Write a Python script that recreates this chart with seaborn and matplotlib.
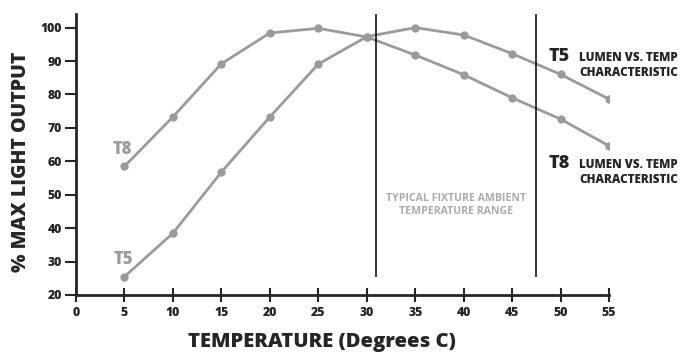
import pandas as pd
import matplotlib.pyplot as plt
import seaborn as sns

# data
temps = [5, 10, 15, 20, 25, 30, 35, 40, 45, 50, 55]
t8_output = [58.5, 73.3, 89.2, 98.4, 99.8, 97.2, 91.8, 85.9, 79.0, 72.6, 64.6]
t5_output = [25.5, 38.5, 56.8, 73.3, 89.1, 97.3, 100.0, 97.8, 92.2, 86.0, 78.6]
range_lo, range_hi = 30.9, 47.5
x_ticks = [0, 5, 10, 15, 20, 25, 30, 35, 40, 45, 50, 55]
y_ticks = [20, 30, 40, 50, 60, 70, 80, 90, 100]

df = pd.DataFrame({
    "temp": temps * 2,
    "output": t8_output + t5_output,
    "lamp": ["T8"] * len(temps) + ["T5"] * len(temps),
})

sns.set_style("ticks")
plt.rcParams["font.family"] = ["Open Sans", "DejaVu Sans"]

grey = "#9b9b9b"
fig = plt.figure(figsize=(6.8, 3.54), dpi=100)
ax = fig.add_axes([0.1118, 0.1667, 0.784, 0.793])

sns.lineplot(data=df, x="temp", y="output", hue="lamp",
             palette={"T8": grey, "T5": grey}, marker="o", markersize=6,
             markeredgewidth=0, linewidth=2, legend=False, ax=ax)

# typical ambient range
ax.vlines([range_lo, range_hi], 25.4, 104, color="black", linewidth=1.1)
ax.text((range_lo + range_hi) / 2, 47.0, "TYPICAL FIXTURE AMBIENT\nTEMPERATURE RANGE",
        ha="center", va="center", color="#aaaaaa", fontsize=7.6, fontweight=700,
        linespacing=1.2)

# curve labels
ax.text(4.8, 62.2, "T8", ha="center", va="baseline", color=grey, fontsize=12, fontweight=800)
ax.text(4.9, 29.3, "T5", ha="center", va="baseline", color=grey, fontsize=12, fontweight=800)


def side_label(y_px, lamp):
    y1 = 1 - y_px / 354
    y2 = 1 - (y_px + 15) / 354
    fig.text(0.806, y1, lamp, ha="left", va="baseline", fontsize=13, fontweight=800)
    fig.text(0.997, y1, "LUMEN VS. TEMP", ha="right", va="baseline", fontsize=8.4, fontweight=800)
    fig.text(0.997, y2, "CHARACTERISTIC", ha="right", va="baseline", fontsize=8.4, fontweight=800)


side_label(61, "T5")
side_label(168, "T8")

ax.set_xlim(0, 55)
ax.set_ylim(20, 104)
ax.set_xticks(x_ticks)
ax.set_yticks(y_ticks)
ax.spines["top"].set_visible(False)
ax.spines["right"].set_visible(False)
ax.spines["left"].set_linewidth(2)
ax.spines["bottom"].set_linewidth(2)
ax.tick_params(axis="x", direction="inout", length=10, width=1.5, labelsize=8.8, pad=4)
ax.tick_params(axis="y", direction="out", length=8, width=1.5, labelsize=8.8, pad=2)
for lab in ax.get_xticklabels() + ax.get_yticklabels():
    lab.set_fontweight(800)

ax.set_xlabel("TEMPERATURE (Degrees C)", fontsize=14.6, fontweight=800)
ax.set_ylabel("% MAX LIGHT OUTPUT", fontsize=14, fontweight=800)
ax.xaxis.set_label_coords(0.462, -0.133)
ax.yaxis.set_label_coords(-0.084, 0.475)

fig.savefig("out.png", dpi=100)
